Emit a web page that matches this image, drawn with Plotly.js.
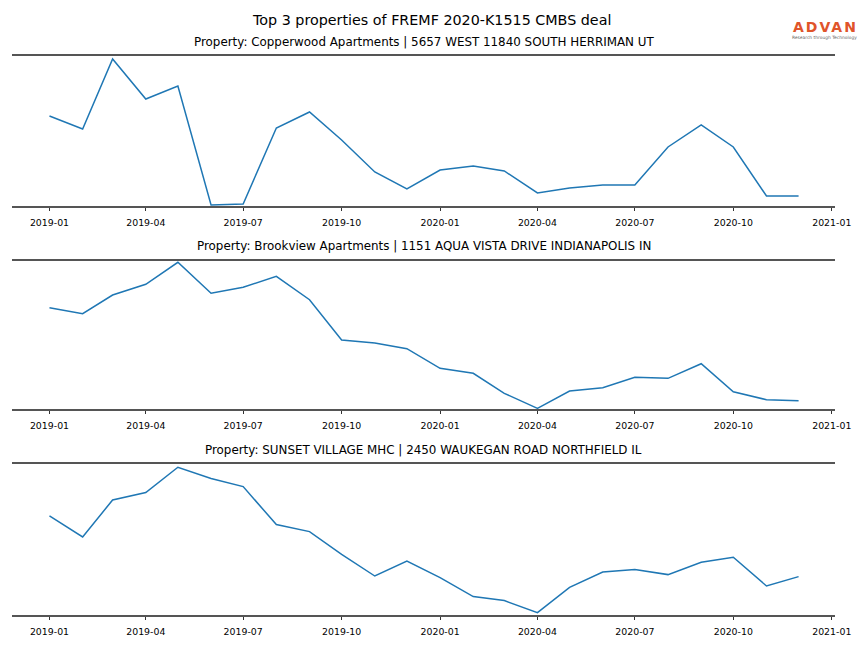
<!DOCTYPE html>
<html>
<head>
<meta charset="utf-8">
<script src="https://cdn.plot.ly/plotly-3.0.1.min.js"></script>
<style>html,body{margin:0;padding:0;background:#fff;}#chart{width:864px;height:648px;}</style>
</head>
<body>
<div id="chart"></div>
<script>
// Monthly dates
var months = ["2019-01-01","2019-02-01","2019-03-01","2019-04-01","2019-05-01","2019-06-01",
  "2019-07-01","2019-08-01","2019-09-01","2019-10-01","2019-11-01","2019-12-01",
  "2020-01-01","2020-02-01","2020-03-01","2020-04-01","2020-05-01","2020-06-01",
  "2020-07-01","2020-08-01","2020-09-01","2020-10-01","2020-11-01","2020-12-01"];

// Relative activity series (no y scale shown)
var copperwood = [90, 77, 147, 107, 120, 1, 2, 78, 94, 66, 34, 17, 36, 40, 35, 13, 18, 21, 21, 59, 81, 59, 10, 10];
var brookview = [101.3, 95.3, 114, 124.7, 146.7, 115.7, 121.7, 132.7, 109.3, 69, 66, 60.3, 40.7, 35.7, 15.7, 0.7, 18, 21.3, 31.7, 30.7, 45.3, 17.3, 9.3, 8.3];
var sunset = [99, 78, 115, 122.4, 147.7, 136.4, 128.4, 90.4, 83.4, 60.7, 39, 54, 37.4, 18.4, 14.4, 2.4, 27.7, 43, 45.4, 40.4, 52.7, 57.7, 29, 38.4];

var mainTitle = "Top 3 properties of FREMF 2020-K1515 CMBS deal";
var subTitles = [
  "Property: Copperwood Apartments | 5657 WEST 11840 SOUTH HERRIMAN UT",
  "Property: Brookview Apartments | 1151 AQUA VISTA DRIVE INDIANAPOLIS IN",
  "Property: SUNSET VILLAGE MHC | 2450 WAUKEGAN ROAD NORTHFIELD IL"
];
var logoText = "ADVAN";
var logoTagline = "Research through Technology";
var tickVals = ["2019-01-01","2019-04-01","2019-07-01","2019-10-01","2020-01-01","2020-04-01","2020-07-01","2020-10-01","2021-01-01"];
var tickText = ["2019-01","2019-04","2019-07","2019-10","2020-01","2020-04","2020-07","2020-10","2021-01"];

var series = [copperwood, brookview, sunset];
var yRanges = [[0,150],[0,148],[0,151]];
var yDomains = [[0.6821,0.9136],[0.3688,0.5972],[0.0509,0.2840]];
var xDomain = [0.0139, 0.9664];
var font = "DejaVu Sans, sans-serif";

var traces = series.map(function(s, i){
  return {x: months, y: s, type: "scatter", mode: "lines",
    line: {color: "#1f77b4", width: 1.5},
    xaxis: i===0 ? "x" : "x"+(i+1), yaxis: i===0 ? "y" : "y"+(i+1),
    hoverinfo: "skip", showlegend: false};
});

var layout = {
  width: 864, height: 648,
  margin: {l:0, r:0, t:0, b:0},
  paper_bgcolor: "#fff", plot_bgcolor: "#fff",
  font: {family: font, color: "#000"},
  showlegend: false,
  annotations: [
    {text: mainTitle, xref: "paper", yref: "paper", x: 431.5/864, y: 1-20/648, xanchor: "center", yanchor: "middle", showarrow: false, font: {size: 14.3, family: font, color: "#000"}},
    {text: logoText, xref: "paper", yref: "paper", x: 825/864, y: 1-26.5/648, xanchor: "center", yanchor: "middle", showarrow: false, font: {size: 14, weight: "bold", family: "DejaVu Sans, sans-serif", color: "#e0542a"}},
    {text: logoTagline, xref: "paper", yref: "paper", x: 824/864, y: 1-37/648, xanchor: "center", yanchor: "middle", showarrow: false, font: {size: 4.4, family: font, color: "#666"}}
  ]
};

var titleY = [42, 246, 450];
for (var i = 0; i < 3; i++) {
  var xa = i===0 ? "xaxis" : "xaxis"+(i+1);
  var ya = i===0 ? "yaxis" : "yaxis"+(i+1);
  layout[xa] = {
    domain: xDomain, type: "date", range: ["2018-11-27","2021-01-04"],
    anchor: i===0 ? "y" : "y"+(i+1),
    tickmode: "array", tickvals: tickVals, ticktext: tickText,
    ticks: "outside", ticklen: 3.5, tickwidth: 0.8, tickcolor: "#000",
    ticklabelstandoff: 4,
    tickfont: {size: 9.4, family: font, color: "#000"},
    showline: true, mirror: true, linecolor: "#555", linewidth: 1.6,
    showgrid: false, zeroline: false, fixedrange: true
  };
  layout[ya] = {
    domain: yDomains[i], range: yRanges[i],
    anchor: i===0 ? "x" : "x"+(i+1),
    showticklabels: false, ticks: "", showgrid: false, zeroline: false, showline: false, fixedrange: true
  };
  layout.annotations.push({text: subTitles[i], xref: "paper", yref: "paper", x: 423.5/864, y: 1-titleY[i]/648,
    xanchor: "center", yanchor: "middle", showarrow: false, font: {size: 11.9, family: font, color: "#000"}});
}

Plotly.newPlot("chart", traces, layout, {staticPlot: true, displayModeBar: false}).then(function(gd){
  // slightly widen the ADVAN wordmark letters
  var texts = gd.querySelectorAll(".annotation-text");
  texts.forEach(function(t){
    if (t.textContent === logoText) {
      t.style.letterSpacing = "2px";
    }
  });
});
</script>
</body>
</html>
